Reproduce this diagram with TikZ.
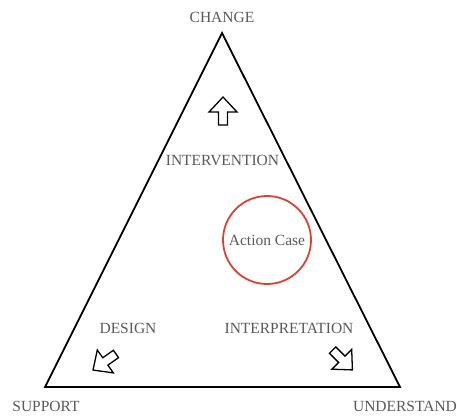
\documentclass[tikz,border=0pt]{standalone}
\usepackage{fontspec}
\setmainfont{Liberation Serif}
\usetikzlibrary{positioning}
\definecolor{labelgray}{HTML}{5A5A5A}
\definecolor{casered}{HTML}{D9432F}
\tikzset{
  lbl/.style={
      text=labelgray,
      font=\fontsize{15.5}{18}\selectfont,
      inner sep=0pt
    },
  side/.style={
      draw,
      line width=1.8pt,
      line join=miter
    },
  case/.style={
      circle,
      draw=casered,
      line width=1.8pt,
      minimum size=88pt,
      inner sep=0pt,
      text=labelgray,
      font=\fontsize{15.5}{18}\selectfont
    },
  bigarrow/.pic={
      \draw[line width=1.3pt, line join=miter, fill=white]
        (0,-14) -- (14,1) -- (4.5,1) -- (4.5,14) -- (-4.5,14) -- (-4.5,1) -- (-14,1) -- cycle;
    }
}

\begin{document}
\begin{tikzpicture}[x=1pt, y=-1pt]
  \useasboundingbox (0,0) rectangle (457,416);
  % corners of the triangle
  \coordinate (top) at (222,33);
  \coordinate (left) at (45,387);
  \coordinate (right) at (400,387);
  \draw[side] (top) -- (left) -- (right) -- cycle;
  % corner labels
  \node[lbl] (change) at (222,17) {CHANGE};
  \node[lbl] (support) at (46,406) {SUPPORT};
  \node[lbl] (understand) at (405,406) {UNDERSTAND};
  % side labels
  \node[lbl] (intervention) at (222.5,160) {INTERVENTION};
  \node[lbl] (design) at (128,328) {DESIGN};
  \node[lbl] (interpretation) at (289,328) {INTERPRETATION};
  \node[case] (actioncase) at (267,240) {Action Case};
  % arrows
  \pic at (223,111) {bigarrow};
  \pic[rotate=125] at (104.5,362) {bigarrow};
  \pic[rotate=-135] at (342.5,360) {bigarrow};
\end{tikzpicture}
\end{document}
